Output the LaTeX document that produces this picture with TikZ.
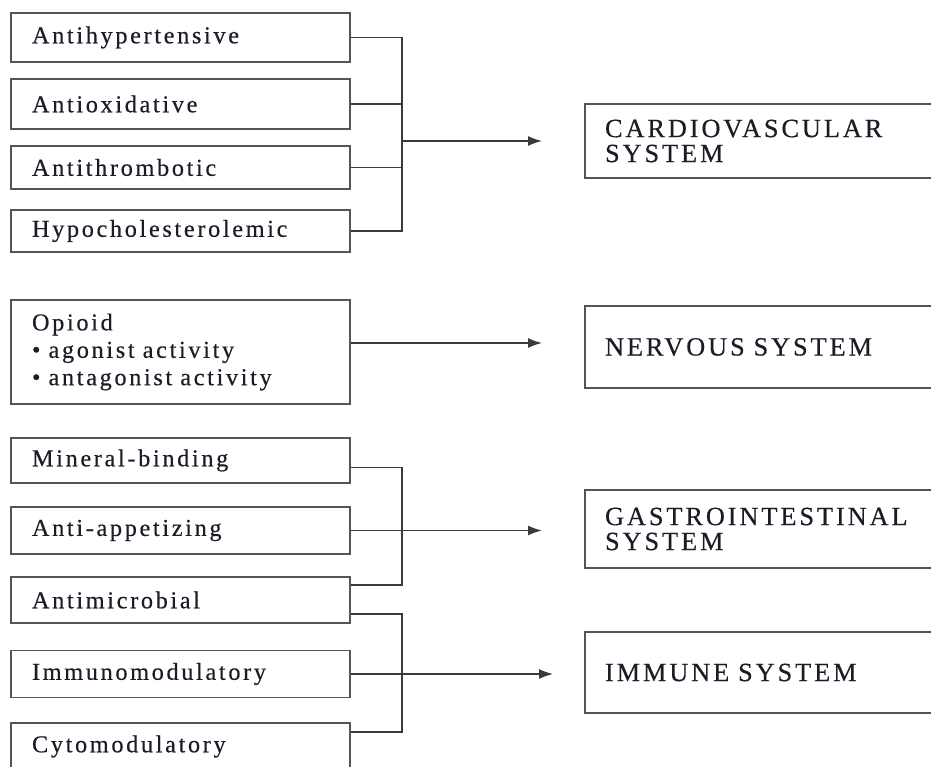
\documentclass[tikz,border=0pt]{standalone}
\usepackage{fontspec}
\usepackage{tikz}
\usetikzlibrary{arrows.meta,calc}
\newfontfamily\lbfont[LetterSpace=11,FakeBold=0.4]{Liberation Serif}
\newfontfamily\rbfont[LetterSpace=11,FakeBold=0.4]{Liberation Serif}
\definecolor{edgegray}{HTML}{555555}
\definecolor{wiregray}{HTML}{3A3A3A}
\definecolor{inkdark}{HTML}{1C1C28}
\tikzset{
  >={Latex[length=2.8mm,width=2mm]},
}

\begin{document}
\begin{tikzpicture}[
  x=0.02cm,y=-0.02cm,
  lb/.style={draw=edgegray,line width=1.1pt,text=inkdark,align=left,
    minimum height=0.94cm,text width=5.94cm,inner xsep=0.42cm,inner ysep=0pt,
    font=\lbfont\fontsize{13.8}{15.6}\selectfont},
  rb/.style={draw=edgegray,line width=1.1pt,text=inkdark,align=left,
    text width=6.7cm,inner xsep=0.4cm,inner ysep=0pt,
    font=\rbfont\fontsize{15}{14.2}\selectfont},
  wire/.style={draw=wiregray,line width=0.8pt},
  arr/.style={wire,->}
]
\useasboundingbox (0,0) rectangle (931,767);
\clip (0,0) rectangle (931,767);

% first group
\node[lb,minimum height=0.98cm] (hyp) at (180.5,37.5) {Antihypertensive};
\node[lb,minimum height=1.0cm] (oxi) at (180.5,104) {Antioxidative};
\node[lb,minimum height=0.86cm] (thr) at (180.5,167.5) {Antithrombotic};
\node[lb,minimum height=0.84cm] (chol) at (180.5,231) {Hypocholesterolemic};

\node[rb,minimum height=1.48cm] (cv) at (772.5,141) {CARDIOVASCULAR\\SYSTEM};

% second group
\node[lb,minimum height=2.08cm] (opi) at (180.5,352)
  {Opioid\\\textbullet\ agonist activity\\\textbullet\ antagonist activity};
\node[rb,minimum height=1.64cm] (nv) at (772.5,347) {NERVOUS SYSTEM};

% third group
\node[lb,minimum height=0.9cm] (min) at (180.5,460.5) {Mineral-binding};
\node[lb] (app) at (180.5,530.5) {Anti-appetizing};
\node[lb,minimum height=0.92cm] (mic) at (180.5,600) {Antimicrobial};
\node[lb] (imm) at (180.5,674) {Immunomodulatory};
\node[lb] (cyt) at (180.5,746.5) {Cytomodulatory};

\node[rb,minimum height=1.56cm] (gi) at (772.5,529) {GASTROINTESTINAL\\SYSTEM};
\node[rb,minimum height=1.62cm] (is) at (772.5,672.5) {IMMUNE SYSTEM};

% joints and arrow ends
\coordinate (cvj) at (402,141);
\coordinate (cvtip) at (542,141);
\coordinate (nvtip) at (542,343);
\coordinate (gij) at (402,531);
\coordinate (gitip) at (542,531);
\coordinate (isj) at (402,676);
\coordinate (istip) at (553,676);

\draw[wire] (hyp.east) -| (cvj) |- (chol.east);
\draw[wire] (oxi.east) -- (oxi.east -| cvj);
\draw[wire] (thr.east) -- (thr.east -| cvj);
\draw[arr] (cvj) -- (cvtip);

\draw[arr] (opi.east |- nvtip) -- (nvtip);

\draw[wire] ([yshift=-0.14cm]min.east) -| (gij) |- ([yshift=-0.18cm]mic.north east);
\draw[arr] (app.east) -- (app.east -| gitip);

\draw[wire] ([yshift=0.2cm]mic.south east) -| (isj) |- ([yshift=-0.2cm]cyt.north east);
\draw[arr] (imm.east) -- (imm.east -| istip);

\end{tikzpicture}
\end{document}
